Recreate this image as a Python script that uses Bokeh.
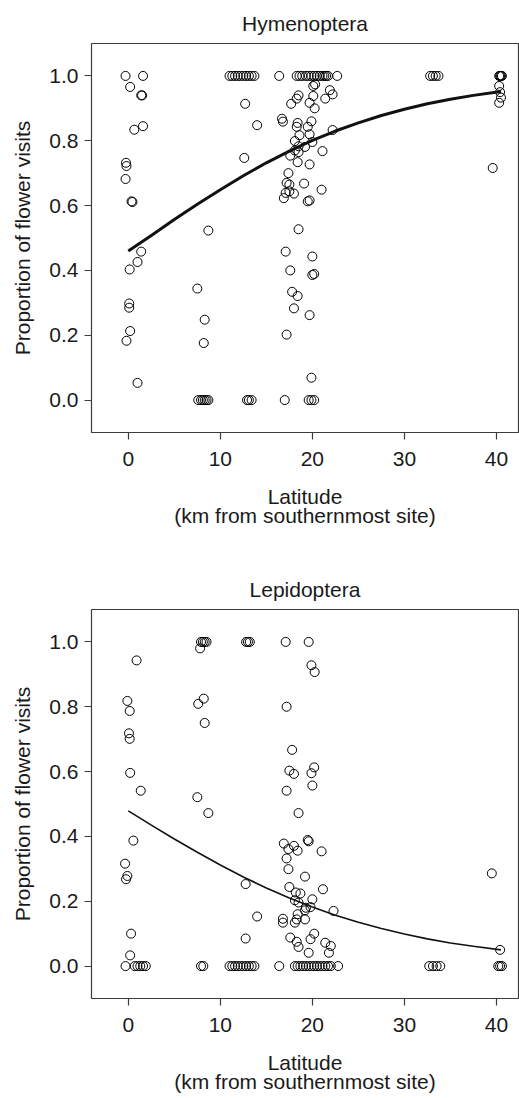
from bokeh.plotting import figure
from bokeh.layouts import column
from bokeh.models import Range1d, FixedTicker, PrintfTickFormatter
from bokeh.embed import file_html
from bokeh.resources import INLINE

# ---------------- data: Hymenoptera ----------------
hym_x = [
    -0.3, 1.6, 0.2, 1.4, 1.5, 0.65, 1.6, -0.25, -0.2, -0.3, 0.35, 0.45, 1.4, 1.0, 0.15, 0.1, 0.1, 0.2, -0.2, 1.0,
    8.7, 7.5, 8.3, 8.2, 7.6, 7.9, 8.1, 8.3, 8.5, 8.7,
    11.0, 11.3, 11.6, 11.9, 12.2, 12.5, 12.8, 13.1, 13.4, 13.7, 12.7, 14.0, 12.6, 12.9, 13.1, 13.4,
    16.4,
    18.3, 18.6, 18.9, 19.3, 19.6, 19.9, 20.2, 20.5, 20.8, 21.1, 21.3, 21.5, 21.7, 22.7,
    20.3, 20.1, 18.5, 18.3, 21.9, 22.2, 21.4, 20.1, 17.7, 19.7, 20.25, 16.7, 16.8, 18.4, 18.3, 19.9, 19.5,
    22.2, 18.6, 19.7, 18.1, 20.0, 19.2, 18.5, 21.1, 18.1, 17.6, 18.5, 18.4, 19.7, 17.4, 17.2, 17.5, 19.1,
    21.0, 17.1, 17.5, 18.0, 16.9, 19.5, 19.7, 18.5, 17.1, 20.0, 17.6, 20.0, 20.2, 17.8, 18.4, 18.0, 19.7,
    17.2, 19.9, 17.0, 19.6, 19.9, 20.2,
    32.8, 33.1, 33.4, 33.7,
    40.3, 40.4, 40.5, 40.6, 40.3, 40.4, 40.5, 40.3, 39.6,
]
hym_y = [
    1.0, 1.0, 0.966, 0.94, 0.94, 0.834, 0.845, 0.732, 0.722, 0.682, 0.613, 0.611, 0.458, 0.426, 0.403, 0.298, 0.285, 0.213, 0.183, 0.053,
    0.523, 0.344, 0.248, 0.176, 0.0, 0.0, 0.0, 0.0, 0.0, 0.0,
    1.0, 1.0, 1.0, 1.0, 1.0, 1.0, 1.0, 1.0, 1.0, 1.0, 0.914, 0.848, 0.747, 0.0, 0.0, 0.0,
    1.0,
    1.0, 1.0, 1.0, 1.0, 1.0, 1.0, 1.0, 1.0, 1.0, 1.0, 1.0, 1.0, 1.0, 1.0,
    0.974, 0.969, 0.94, 0.93, 0.956, 0.943, 0.93, 0.938, 0.914, 0.917, 0.90, 0.868, 0.859, 0.855, 0.843, 0.86, 0.843,
    0.833, 0.817, 0.82, 0.799, 0.796, 0.781, 0.783, 0.768, 0.77, 0.754, 0.765, 0.734, 0.727, 0.70, 0.67, 0.665, 0.668,
    0.649, 0.639, 0.644, 0.637, 0.623, 0.613, 0.616, 0.527, 0.458, 0.443, 0.40, 0.386, 0.389, 0.334, 0.321, 0.283, 0.262,
    0.202, 0.069, 0.0, 0.0, 0.0, 0.0,
    1.0, 1.0, 1.0, 1.0,
    1.0, 1.0, 1.0, 1.0, 0.969, 0.95, 0.933, 0.917, 0.716,
]
hym_fit_x = [0, 2.5, 5, 7.5, 10, 12.5, 15, 17.5, 20, 22.5, 25, 27.5, 30, 32.5, 35, 37.5, 40.5]
hym_fit_y = [0.460, 0.508, 0.557, 0.604, 0.649, 0.692, 0.732, 0.768, 0.801, 0.830, 0.855, 0.878, 0.897, 0.914, 0.928, 0.940, 0.952]

# ---------------- data: Lepidoptera ----------------
lep_x = [
    0.9, -0.1, 0.15, 0.07, 0.15, 0.2, 1.35, 0.55, -0.35, -0.1, -0.25, 0.3, 0.2, -0.3, 0.7, 1.0, 1.3, 1.6, 1.9,
    7.9, 8.1, 8.3, 8.5, 7.8, 8.2, 7.6, 8.3, 7.5, 8.7, 7.9, 8.15,
    12.8, 13.0, 13.2, 12.75, 14.0, 12.75, 11.0, 11.3, 11.6, 11.9, 12.2, 12.5, 12.8, 13.1, 13.4, 13.7,
    17.1, 19.6, 19.9, 20.25, 17.2, 17.8, 17.5, 18.0, 20.2, 19.9, 17.2, 20.0, 18.5, 19.5, 19.6, 16.9, 17.4,
    18.0, 18.4, 21.0, 17.2, 17.4, 19.2, 17.5, 18.2, 18.7, 21.15, 18.1, 18.5, 20.0, 19.3, 19.8, 22.3, 18.4,
    19.2, 18.3, 18.1, 19.2, 16.8, 16.8, 17.6, 18.3, 20.2, 19.8, 18.5, 21.4, 22.0, 21.8, 19.6,
    16.4, 18.1, 18.4, 18.7, 19.0, 19.3, 19.6, 19.9, 20.2, 20.5, 20.8, 21.1, 21.4, 21.7, 22.0, 22.8,
    32.7, 33.1, 33.5, 33.9,
    39.5, 40.4, 40.2, 40.4, 40.6,
]
lep_y = [
    0.943, 0.818, 0.787, 0.718, 0.701, 0.596, 0.541, 0.387, 0.316, 0.278, 0.268, 0.10, 0.033, 0.0, 0.0, 0.0, 0.0, 0.0, 0.0,
    1.0, 1.0, 1.0, 1.0, 0.98, 0.825, 0.809, 0.75, 0.521, 0.472, 0.0, 0.0,
    1.0, 1.0, 1.0, 0.253, 0.153, 0.085, 0.0, 0.0, 0.0, 0.0, 0.0, 0.0, 0.0, 0.0, 0.0, 0.0,
    1.0, 1.0, 0.928, 0.907, 0.80, 0.667, 0.603, 0.593, 0.613, 0.595, 0.541, 0.557, 0.472, 0.389, 0.385, 0.378, 0.361,
    0.371, 0.356, 0.354, 0.332, 0.299, 0.276, 0.244, 0.227, 0.224, 0.237, 0.203, 0.196, 0.206, 0.18, 0.182, 0.17, 0.16,
    0.172, 0.144, 0.134, 0.144, 0.146, 0.134, 0.088, 0.075, 0.10, 0.083, 0.059, 0.072, 0.062, 0.041, 0.041,
    0.0, 0.0, 0.0, 0.0, 0.0, 0.0, 0.0, 0.0, 0.0, 0.0, 0.0, 0.0, 0.0, 0.0, 0.0, 0.0,
    0.0, 0.0, 0.0, 0.0,
    0.286, 0.05, 0.0, 0.0, 0.0,
]
lep_fit_x = [0, 2.5, 5, 7.5, 10, 12.5, 15, 17.5, 20, 22.5, 25, 27.5, 30, 32.5, 35, 37.5, 40.5]
lep_fit_y = [0.479, 0.435, 0.392, 0.351, 0.312, 0.275, 0.241, 0.210, 0.182, 0.157, 0.135, 0.116, 0.099, 0.084, 0.071, 0.061, 0.050]

x_ticks = [0, 10, 20, 30, 40]
y_ticks = [0.0, 0.2, 0.4, 0.6, 0.8, 1.0]
x_label = "Latitude\n(km from southernmost site)"
y_label = "Proportion of flower visits"
titles = ["Hymenoptera", "Lepidoptera"]

FONT = "Liberation Sans"
INK = "#1a1a1a"
FRAME = "#3c3c3c"
FS = "21px"
X_MIN, X_MAX = -4, 42.4
Y_MIN, Y_MAX = -0.1, 1.1


def make_panel(title, xs, ys, fx, fy, fit_width, height, border_top, border_bottom):
    p = figure(width=519, height=height, output_backend="svg", toolbar_location=None,
               x_range=Range1d(X_MIN, X_MAX), y_range=Range1d(Y_MIN, Y_MAX),
               min_border_left=91, min_border_right=1, min_border_top=border_top,
               min_border_bottom=border_bottom, title=title)
    p.title.align = "center"
    p.title.text_font = FONT
    p.title.text_font_size = FS
    p.title.text_font_style = "normal"
    p.title.text_color = INK
    p.title.standoff = 17
    p.grid.visible = False
    p.background_fill_color = "white"
    p.border_fill_color = "white"
    p.outline_line_color = FRAME
    p.outline_line_width = 1.2
    p.outline_line_alpha = 1

    for ax in (p.xaxis[0], p.yaxis[0]):
        ax.axis_line_color = None
        ax.major_tick_line_color = FRAME
        ax.major_tick_line_width = 1.2
        ax.major_tick_in = 0
        ax.major_tick_out = 7
        ax.minor_tick_line_color = None
        ax.major_label_text_font = FONT
        ax.major_label_text_font_size = FS
        ax.major_label_text_color = INK
        ax.axis_label_text_font = FONT
        ax.axis_label_text_font_size = FS
        ax.axis_label_text_font_style = "normal"
        ax.axis_label_text_color = INK

    p.xaxis.ticker = FixedTicker(ticks=x_ticks)
    p.yaxis.ticker = FixedTicker(ticks=y_ticks)
    p.yaxis.formatter = PrintfTickFormatter(format="%.1f")
    p.xaxis.major_label_standoff = 12
    p.yaxis.major_label_standoff = 6
    p.xaxis.axis_label = x_label
    p.yaxis.axis_label = y_label
    p.xaxis.axis_label_standoff = 16
    p.yaxis.axis_label_standoff = 12
    p.xaxis.axis_label_text_line_height = 0.85

    p.scatter(xs, ys, marker="circle", size=9, fill_color=None,
              line_color="black", line_width=1)
    p.line(fx, fy, line_color="#111111", line_width=fit_width)
    return p


p1 = make_panel(titles[0], hym_x, hym_y, hym_fit_x, hym_fit_y, 3, 566, 43, 134)
p2 = make_panel(titles[1], lep_x, lep_y, lep_fit_x, lep_fit_y, 1.6, 530, 43, 98)

layout = column(p1, p2, spacing=0)
open("out.html", "w").write(file_html(layout, INLINE))
